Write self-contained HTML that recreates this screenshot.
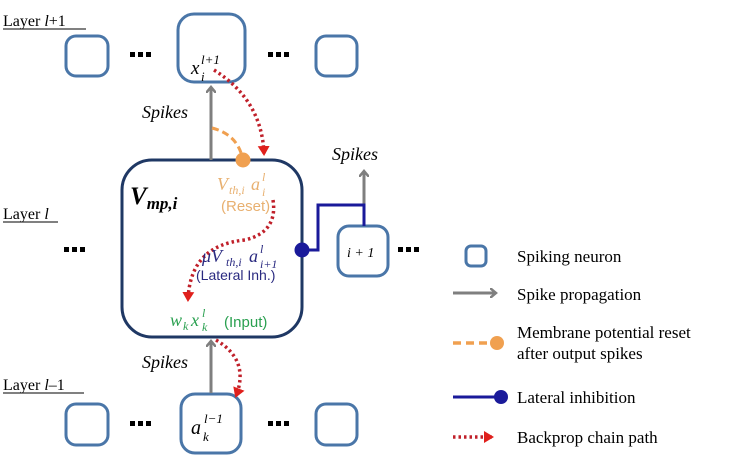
<!DOCTYPE html>
<html><head><meta charset="utf-8"><style>
html,body{margin:0;padding:0;background:#fff;}
svg{display:block;}
.ser{font-family:"Liberation Serif",serif;}
.mi{font-family:"Liberation Serif",serif;font-style:italic;}
.sans{font-family:"Liberation Sans",sans-serif;}
</style></head><body>
<svg width="737" height="464" viewBox="0 0 737 464" xmlns="http://www.w3.org/2000/svg">
<defs>
<marker id="ga" markerWidth="10" markerHeight="10" refX="5" refY="5" orient="auto" markerUnits="userSpaceOnUse"><path d="M0,0 L6,5 L0,10" fill="none" stroke="#7f7f7f" stroke-width="2.5"/></marker>
<marker id="ra" markerWidth="12" markerHeight="12" refX="8" refY="6" orient="auto" markerUnits="userSpaceOnUse"><path d="M0,0 L10,6 L0,12 Z" fill="#e0201c"/></marker>
<g id="dots"><rect x="0" y="0" width="5" height="5"/><rect x="8" y="0" width="5" height="5"/><rect x="16" y="0" width="5" height="5"/></g>
</defs>
<g fill="none" stroke="#4a76a8" stroke-width="3">
<rect x="66" y="36" width="42" height="40" rx="10"/>
<rect x="178" y="14" width="67" height="68" rx="16"/>
<rect x="316" y="36" width="41" height="40" rx="10"/>
<rect x="66" y="404" width="42" height="41" rx="10"/>
<rect x="181" y="394" width="60" height="59" rx="14"/>
<rect x="316" y="404" width="41" height="41" rx="10"/>
<rect x="338" y="226" width="50" height="50" rx="11"/>
<rect x="466" y="246" width="20" height="20" rx="5"/>
</g>
<rect x="122" y="160" width="180" height="177" rx="30" fill="none" stroke="#1f3864" stroke-width="3"/>
<g fill="#000">
<use href="#dots" x="130" y="52"/><use href="#dots" x="268" y="52"/>
<use href="#dots" x="64" y="247"/><use href="#dots" x="398" y="247"/>
<use href="#dots" x="130" y="421"/><use href="#dots" x="268" y="421"/>
</g>
<g class="ser" font-size="16" fill="#000">
<text x="3" y="26">Layer <tspan font-style="italic">l</tspan>+1</text>
<line x1="3" y1="29" x2="86" y2="29" stroke="#000" stroke-width="1"/>
<text x="3" y="219">Layer <tspan font-style="italic">l</tspan></text>
<line x1="3" y1="222" x2="58" y2="222" stroke="#000" stroke-width="1"/>
<text x="3" y="390">Layer <tspan font-style="italic">l</tspan>–1</text>
<line x1="3" y1="393" x2="84" y2="393" stroke="#000" stroke-width="1"/>
</g>
<g class="mi" font-size="18" fill="#000">
<text x="142" y="118">Spikes</text>
<text x="332" y="160">Spikes</text>
<text x="142" y="368">Spikes</text>
<text x="191" y="74" font-size="19">x</text><text x="201" y="64" font-size="13">l+1</text><text x="201" y="81" font-size="13">i</text>
<text x="191" y="434" font-size="20">a</text><text x="204" y="423" font-size="13">l−1</text><text x="203" y="441" font-size="13">k</text>
<text x="347" y="257" font-size="14">i + 1</text>
</g>
<text x="130" y="204" class="mi" font-size="25" font-weight="bold">V<tspan font-size="17" dy="5">mp,i</tspan></text>
<g stroke="#7f7f7f" stroke-width="3" fill="none">
<line x1="211" y1="160" x2="211" y2="88" marker-end="url(#ga)"/>
<line x1="364" y1="205" x2="364" y2="172" marker-end="url(#ga)"/>
<line x1="211" y1="393" x2="211" y2="342" marker-end="url(#ga)"/>
<line x1="453" y1="293" x2="495" y2="293" marker-end="url(#ga)"/>
</g>
<path d="M212,128 Q236,134 242,156" fill="none" stroke="#f0a050" stroke-width="3" stroke-dasharray="7,4"/>
<circle cx="243" cy="160" r="7.5" fill="#f0a050"/>
<polyline points="302,250 318,250 318,205 364,205 364,226" fill="none" stroke="#1a1a9a" stroke-width="3"/>
<circle cx="302" cy="250" r="7.5" fill="#1a1a9a"/>
<g fill="none" stroke="#c0202a" stroke-width="3.5" stroke-dasharray="2.5,3">
<path d="M214,70 Q262,100 264,154" marker-end="url(#ra)"/>
<path d="M273,200 Q278,232 245,240 Q190,245 188,300" marker-end="url(#ra)"/>
<path d="M216,340 Q250,360 236,396" marker-end="url(#ra)"/>
<line x1="453" y1="437" x2="492" y2="437" marker-end="url(#ra)"/>
</g>
<g class="mi" fill="#e8b070">
<text x="217" y="190" font-size="18">V</text><text x="229" y="194" font-size="12">th,i</text>
<text x="251" y="190" font-size="18">a</text><text x="262" y="181" font-size="12">l</text><text x="262" y="196" font-size="12">i</text>
</g>
<text x="221" y="211" class="sans" font-size="15" fill="#e8b070">(Reset)</text>
<g class="mi" fill="#2a2a80">
<text x="202" y="262" font-size="18">μV</text><text x="226" y="266" font-size="12">th,i</text>
<text x="249" y="262" font-size="18">a</text><text x="260" y="253" font-size="12">l</text><text x="260" y="268" font-size="12">i+1</text>
</g>
<text x="196" y="280" class="sans" font-size="14" fill="#2a2a80">(Lateral Inh.)</text>
<g class="mi" fill="#2aa050">
<text x="170" y="326" font-size="18">w</text><text x="183" y="330" font-size="12">k</text>
<text x="191" y="326" font-size="18">x</text><text x="202" y="317" font-size="12">l</text><text x="202" y="331" font-size="12">k</text>
</g>
<text x="224" y="327" class="sans" font-size="15" fill="#2aa050">(Input)</text>
<line x1="453" y1="343" x2="490" y2="343" stroke="#f0a050" stroke-width="3.5" stroke-dasharray="8,5"/>
<circle cx="497" cy="343" r="7" fill="#f0a050"/>
<line x1="453" y1="397" x2="500" y2="397" stroke="#1a1a9a" stroke-width="3"/>
<circle cx="501" cy="397" r="7" fill="#1a1a9a"/>
<g class="ser" font-size="17" fill="#000">
<text x="517" y="262">Spiking neuron</text>
<text x="517" y="300">Spike propagation</text>
<text x="517" y="338">Membrane potential reset</text>
<text x="517" y="359">after output spikes</text>
<text x="517" y="403">Lateral inhibition</text>
<text x="517" y="443">Backprop chain path</text>
</g>
</svg>
</body></html>
